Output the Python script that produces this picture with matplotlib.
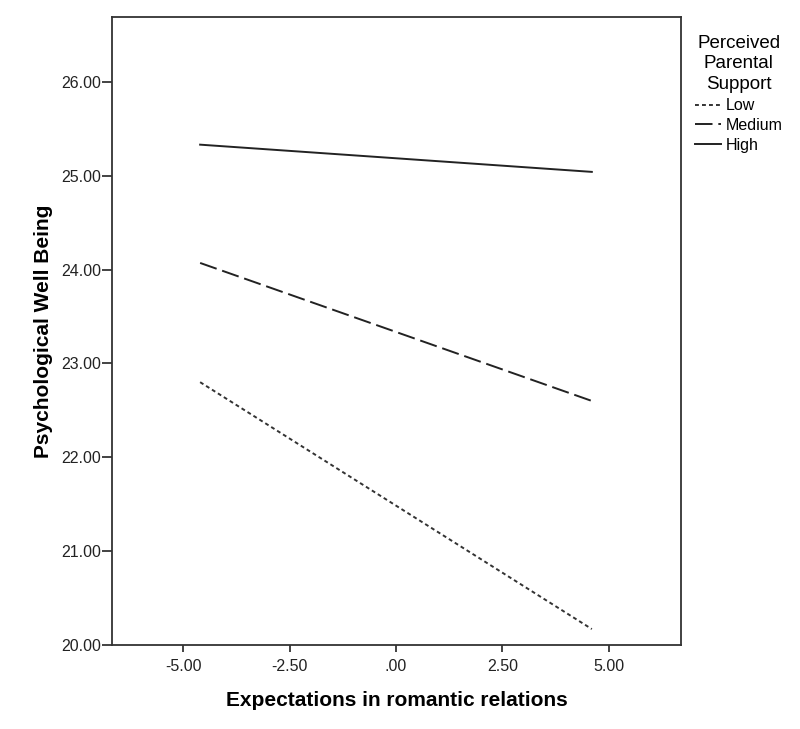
import numpy as np
import matplotlib.pyplot as plt

plt.rcParams['font.family'] = ['Liberation Sans', 'DejaVu Sans']

x_ends = [-4.6, 4.6]
low = [22.80, 20.17]
medium = [24.07, 22.60]
high = [25.33, 25.04]

x_ticks = [-5.0, -2.5, 0.0, 2.5, 5.0]
x_labels = ['-5.00', '-2.50', '.00', '2.50', '5.00']
y_ticks = [20, 21, 22, 23, 24, 25, 26]
y_labels = ['20.00', '21.00', '22.00', '23.00', '24.00', '25.00', '26.00']

fig = plt.figure(figsize=(8, 7.29), dpi=100)
ax = fig.add_axes([0.14, 0.1152, 0.711, 0.8615])

ax.plot(x_ends, low, color='#333333', lw=1.4, linestyle=(0, (2, 1.6)), label='Low')
ax.plot(x_ends, medium, color='#222222', lw=1.4, linestyle=(0, (9, 3)), label='Medium')
ax.plot(x_ends, high, color='#222222', lw=1.4, label='High')

ax.set_xlim(-6.67, 6.69)
ax.set_ylim(20, 26.69)
ax.set_xticks(x_ticks)
ax.set_xticklabels(x_labels)
ax.set_yticks(y_ticks)
ax.set_yticklabels(y_labels)
ax.tick_params(direction='out', width=1.2, labelsize=11.5, colors='#222222')
ax.tick_params(axis='x', length=5, pad=5)
ax.tick_params(axis='y', length=7, pad=1)
for s in ax.spines.values():
    s.set_linewidth(1.3)
    s.set_color('#333333')

ax.set_xlabel('Expectations in romantic relations', fontsize=15, fontweight='bold', labelpad=12)
ax.set_ylabel('Psychological Well Being', fontsize=15, fontweight='bold', labelpad=6)

leg = ax.legend(loc='upper left', bbox_to_anchor=(1.0, 0.995), frameon=False,
                title='Perceived\nParental\nSupport', fontsize=11.5, title_fontsize=13.5,
                handlelength=1.6, handletextpad=0.3, labelspacing=0.3, borderaxespad=0.5)
leg.get_title().set_multialignment('center')
leg.get_title().set_linespacing(1.3)

fig.savefig('out.png', dpi=100)
